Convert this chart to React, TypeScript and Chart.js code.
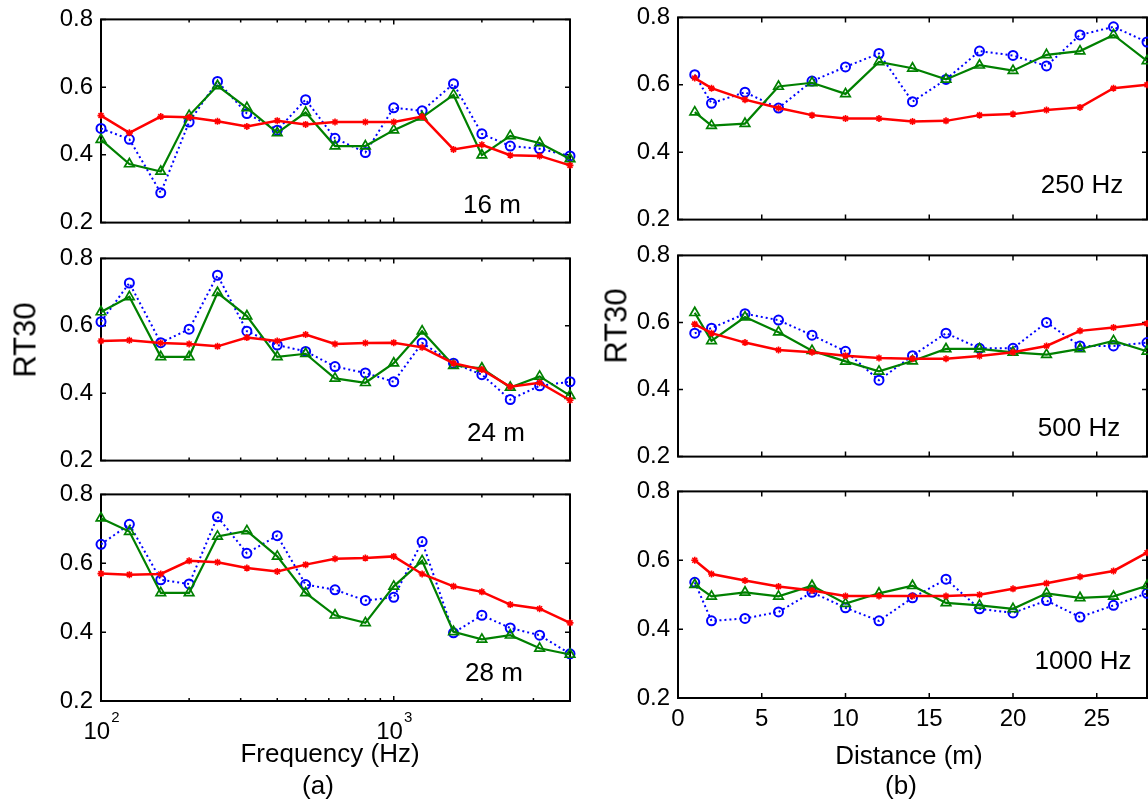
import React, { useEffect, useRef } from "react";
import { Chart, registerables } from "chart.js";

Chart.register(...registerables);

// ---------- data ----------
const FREQS = [100, 125, 160, 200, 250, 315, 400, 500, 630, 800, 1000, 1250, 1600, 2000, 2500, 3150, 4000];
const DIST = [1, 2, 4, 6, 8, 10, 12, 14, 16, 18, 20, 22, 24, 26, 28];

const Y_TICKS = [0.2, 0.4, 0.6, 0.8];
const DIST_TICKS = [0, 5, 10, 15, 20, 25];
const LOG_MAJOR = [100, 1000];
const LOG_MINOR = [200, 300, 400, 500, 600, 700, 800, 900, 2000, 3000];

const blue16 = [0.478, 0.446, 0.288, 0.497, 0.617, 0.522, 0.473, 0.563, 0.449, 0.407, 0.539, 0.530, 0.610, 0.462, 0.426, 0.418, 0.397];
const green16 = [0.445, 0.373, 0.351, 0.516, 0.604, 0.539, 0.465, 0.525, 0.426, 0.426, 0.473, 0.511, 0.577, 0.399, 0.456, 0.435, 0.388];
const red16 = [0.516, 0.465, 0.513, 0.511, 0.499, 0.484, 0.501, 0.490, 0.497, 0.497, 0.497, 0.513, 0.416, 0.430, 0.399, 0.397, 0.369];

const blue24 = [0.612, 0.727, 0.550, 0.590, 0.750, 0.584, 0.543, 0.524, 0.479, 0.460, 0.434, 0.549, 0.489, 0.455, 0.381, 0.422, 0.434];
const green24 = [0.641, 0.686, 0.508, 0.508, 0.698, 0.629, 0.508, 0.517, 0.444, 0.431, 0.489, 0.584, 0.482, 0.474, 0.417, 0.450, 0.393];
const red24 = [0.555, 0.557, 0.549, 0.546, 0.539, 0.565, 0.555, 0.574, 0.546, 0.549, 0.550, 0.536, 0.489, 0.470, 0.419, 0.431, 0.379];

const blue28 = [0.655, 0.713, 0.552, 0.540, 0.735, 0.629, 0.680, 0.538, 0.523, 0.492, 0.501, 0.663, 0.398, 0.449, 0.412, 0.391, 0.337];
const green28 = [0.731, 0.692, 0.514, 0.514, 0.678, 0.694, 0.620, 0.514, 0.449, 0.427, 0.533, 0.607, 0.401, 0.379, 0.391, 0.353, 0.335];
const red28 = [0.570, 0.567, 0.569, 0.607, 0.603, 0.586, 0.576, 0.596, 0.613, 0.615, 0.620, 0.569, 0.533, 0.517, 0.480, 0.468, 0.427];

const blue250 = [0.630, 0.545, 0.578, 0.531, 0.611, 0.653, 0.693, 0.550, 0.616, 0.700, 0.687, 0.656, 0.748, 0.772, 0.727];
const green250 = [0.519, 0.479, 0.485, 0.595, 0.606, 0.573, 0.668, 0.649, 0.616, 0.658, 0.642, 0.689, 0.700, 0.748, 0.671];
const red250 = [0.620, 0.590, 0.556, 0.531, 0.510, 0.500, 0.500, 0.491, 0.493, 0.510, 0.513, 0.525, 0.533, 0.590, 0.600];

const blue500 = [0.568, 0.583, 0.626, 0.607, 0.562, 0.514, 0.428, 0.501, 0.568, 0.523, 0.523, 0.600, 0.530, 0.530, 0.540];
const green500 = [0.629, 0.545, 0.616, 0.571, 0.516, 0.484, 0.454, 0.485, 0.521, 0.521, 0.511, 0.504, 0.521, 0.545, 0.514];
const red500 = [0.595, 0.568, 0.540, 0.518, 0.511, 0.501, 0.494, 0.492, 0.492, 0.500, 0.511, 0.530, 0.575, 0.585, 0.597];

const blue1000 = [0.536, 0.424, 0.431, 0.450, 0.507, 0.462, 0.424, 0.491, 0.545, 0.459, 0.447, 0.483, 0.435, 0.469, 0.504];
const green1000 = [0.529, 0.495, 0.507, 0.495, 0.526, 0.474, 0.504, 0.526, 0.476, 0.469, 0.459, 0.504, 0.491, 0.495, 0.526];
const red1000 = [0.600, 0.560, 0.541, 0.524, 0.512, 0.496, 0.496, 0.496, 0.496, 0.500, 0.517, 0.533, 0.552, 0.569, 0.622];

// ---------- styling ----------
const FONT = '"Liberation Sans", Arial, Helvetica, sans-serif';
const BLUE = "#0000ff";
const GREEN = "#008000";
const RED = "#ff0000";

type Frame = { l: number; t: number; r: number; b: number };
type Panel = {
  kind: "freq" | "dist";
  xs: number[];
  blue: number[];
  green: number[];
  red: number[];
  frame: Frame;
  xLabels: boolean;
};

const AX = 95; // y-axis width (label area)
const PADT = 20;
const PADR = 14;

const PANELS: Panel[] = [
  { kind: "freq", xs: FREQS, blue: blue16, green: green16, red: red16, frame: { l: 101, t: 17, r: 570, b: 229 }, xLabels: false },
  { kind: "freq", xs: FREQS, blue: blue24, green: green24, red: red24, frame: { l: 101, t: 256, r: 570, b: 467 }, xLabels: false },
  { kind: "freq", xs: FREQS, blue: blue28, green: green28, red: red28, frame: { l: 101, t: 492, r: 570, b: 701 }, xLabels: true },
  { kind: "dist", xs: DIST, blue: blue250, green: green250, red: red250, frame: { l: 678, t: 15, r: 1147, b: 226 }, xLabels: false },
  { kind: "dist", xs: DIST, blue: blue500, green: green500, red: red500, frame: { l: 678, t: 253, r: 1147, b: 463 }, xLabels: false },
  { kind: "dist", xs: DIST, blue: blue1000, green: green1000, red: red1000, frame: { l: 678, t: 489, r: 1147, b: 698 }, xLabels: true },
];

const framePlugin = {
  id: "matlabFrame",
  beforeDatasetsDraw(chart: any) {
    const { ctx, chartArea, scales } = chart;
    const { left, right, top, bottom } = chartArea;
    const x = scales.x;
    const y = scales.y;
    const kind = chart.options.plugins.matlabFrame.kind;
    ctx.save();
    ctx.strokeStyle = "#000";
    ctx.lineWidth = 2;
    ctx.strokeRect(left, top, right - left, bottom - top);
    ctx.lineWidth = 1.5;
    ctx.beginPath();
    for (const v of Y_TICKS) {
      const py = y.getPixelForValue(v);
      ctx.moveTo(left, py);
      ctx.lineTo(left + 5, py);
      ctx.moveTo(right, py);
      ctx.lineTo(right - 5, py);
    }
    const major = kind === "freq" ? LOG_MAJOR : DIST_TICKS;
    for (const v of major) {
      const px = x.getPixelForValue(v);
      ctx.moveTo(px, bottom);
      ctx.lineTo(px, bottom - 5);
      ctx.moveTo(px, top);
      ctx.lineTo(px, top + 5);
    }
    if (kind === "freq") {
      for (const v of LOG_MINOR) {
        const px = x.getPixelForValue(v);
        ctx.moveTo(px, bottom);
        ctx.lineTo(px, bottom - 3);
        ctx.moveTo(px, top);
        ctx.lineTo(px, top + 3);
      }
    }
    ctx.stroke();
    ctx.restore();
  },
  afterDraw(chart: any) {
    const o = chart.options.plugins.matlabFrame;
    if (o.kind !== "freq" || !o.xLabels) return;
    const { ctx, chartArea, scales } = chart;
    const x = scales.x;
    ctx.save();
    ctx.fillStyle = "#000";
    ctx.textBaseline = "alphabetic";
    ctx.textAlign = "left";
    for (const v of LOG_MAJOR) {
      const exp = String(Math.round(Math.log10(v)));
      const px = x.getPixelForValue(v);
      ctx.font = `24px ${FONT}`;
      const w1 = ctx.measureText("10").width;
      ctx.font = `15px ${FONT}`;
      const w2 = ctx.measureText(exp).width;
      const start = px - (w1 + w2) / 2;
      ctx.font = `24px ${FONT}`;
      ctx.fillText("10", start, chartArea.bottom + 38);
      ctx.font = `15px ${FONT}`;
      ctx.fillText(exp, start + w1 + 1, chartArea.bottom + 21);
    }
    ctx.restore();
  },
};

function PanelChart({ p }: { p: Panel }) {
  const ref = useRef<HTMLCanvasElement | null>(null);
  const XH = p.xLabels ? 50 : 16;
  const cLeft = p.frame.l - AX;
  const cTop = p.frame.t - PADT;
  const width = p.frame.r + PADR - cLeft;
  const height = p.frame.b + XH - cTop;

  useEffect(() => {
    if (!ref.current) return;
    const mk = (vals: number[]) => p.xs.map((x, i) => ({ x, y: vals[i] }));
    const chart = new Chart(ref.current, {
      type: "line",
      data: {
        datasets: [
          {
            label: "measured",
            data: mk(p.blue),
            borderColor: BLUE,
            borderWidth: 2,
            borderDash: [2, 3],
            pointStyle: "circle",
            pointRadius: 4.5,
            pointBorderWidth: 2,
            pointBorderColor: BLUE,
            pointBackgroundColor: "rgba(0,0,0,0)",
            fill: false,
            tension: 0,
            clip: false,
            order: 2,
          } as any,
          {
            label: "model A",
            data: mk(p.green),
            borderColor: GREEN,
            borderWidth: 2.2,
            pointStyle: "triangle",
            pointRadius: 5.5,
            pointBorderWidth: 1.7,
            pointBorderColor: GREEN,
            pointBackgroundColor: "rgba(0,0,0,0)",
            fill: false,
            tension: 0,
            clip: false,
            order: 1,
          } as any,
          {
            label: "model B",
            data: mk(p.red),
            borderColor: RED,
            borderWidth: 2.5,
            pointStyle: "star",
            pointRadius: 3.5,
            pointBorderWidth: 1.6,
            pointBorderColor: RED,
            pointBackgroundColor: RED,
            fill: false,
            tension: 0,
            clip: false,
            order: 0,
          } as any,
        ],
      },
      options: {
        responsive: false,
        animation: false,
        events: [],
        layout: { padding: { left: 0, top: PADT, right: PADR, bottom: 0 } },
        plugins: {
          legend: { display: false },
          tooltip: { enabled: false },
          matlabFrame: { kind: p.kind, xLabels: p.xLabels },
        } as any,
        scales: {
          x:
            p.kind === "freq"
              ? ({
                  type: "logarithmic",
                  min: 100,
                  max: 4000,
                  grid: { display: false, drawTicks: false },
                  border: { display: false },
                  ticks: { display: false },
                  afterFit: (s: any) => {
                    s.height = XH;
                  },
                } as any)
              : ({
                  type: "linear",
                  min: 0,
                  max: 28,
                  grid: { display: false, drawTicks: false },
                  border: { display: false },
                  ticks: {
                    display: p.xLabels,
                    stepSize: 5,
                    includeBounds: false,
                    autoSkip: false,
                    maxRotation: 0,
                    padding: 7,
                    color: "#000",
                    font: { family: FONT, size: 24 },
                  },
                  afterFit: (s: any) => {
                    s.height = XH;
                  },
                } as any),
          y: {
            type: "linear",
            min: 0.2,
            max: 0.8,
            grid: { display: false, drawTicks: false },
            border: { display: false },
            ticks: {
              stepSize: 0.2,
              padding: 8,
              color: "#000",
              font: { family: FONT, size: 24 },
              callback: (v: any) => Number(v).toFixed(1),
            },
            afterFit: (s: any) => {
              s.width = AX;
            },
          } as any,
        },
      },
      plugins: [framePlugin],
    });
    return () => chart.destroy();
  }, []);

  return (
    <canvas
      ref={ref}
      width={width}
      height={height}
      style={{ position: "absolute", left: cLeft, top: cTop, width, height }}
    />
  );
}

const PANEL_LABELS = [
  { text: "16 m", x: 492, y: 204 },
  { text: "24 m", x: 496, y: 432 },
  { text: "28 m", x: 494, y: 672 },
  { text: "250 Hz", x: 1082, y: 184 },
  { text: "500 Hz", x: 1079, y: 427 },
  { text: "1000 Hz", x: 1083, y: 660 },
];

const AXIS_TEXTS = [
  { text: "Frequency (Hz)", x: 330, y: 753, size: 26 },
  { text: "(a)", x: 318, y: 785, size: 26 },
  { text: "Distance (m)", x: 909, y: 755, size: 26 },
  { text: "(b)", x: 901, y: 785, size: 26 },
];

const Y_TITLES = [
  { text: "RT30", x: 25, y: 340 },
  { text: "RT30", x: 616, y: 326 },
];

export default function App() {
  const txt = (x: number, y: number, size: number, extra: any = {}) => ({
    position: "absolute" as const,
    left: x,
    top: y,
    transform: "translate(-50%, -50%)" + (extra.rotate ? " rotate(-90deg)" : ""),
    fontFamily: FONT,
    fontSize: size,
    lineHeight: 1,
    whiteSpace: "nowrap" as const,
    color: "#000",
  });
  return (
    <div
      style={{
        position: "fixed",
        left: 0,
        top: 0,
        width: 1148,
        height: 805,
        background: "#fff",
        overflow: "hidden",
      }}
    >
      {PANELS.map((p, i) => (
        <PanelChart key={i} p={p} />
      ))}
      {PANEL_LABELS.map((l, i) => (
        <div key={"pl" + i} style={txt(l.x, l.y, 26)}>
          {l.text}
        </div>
      ))}
      {AXIS_TEXTS.map((l, i) => (
        <div key={"ax" + i} style={txt(l.x, l.y, l.size)}>
          {l.text}
        </div>
      ))}
      {Y_TITLES.map((l, i) => (
        <div key={"yt" + i} style={txt(l.x, l.y, 31, { rotate: true })}>
          {l.text}
        </div>
      ))}
    </div>
  );
}
